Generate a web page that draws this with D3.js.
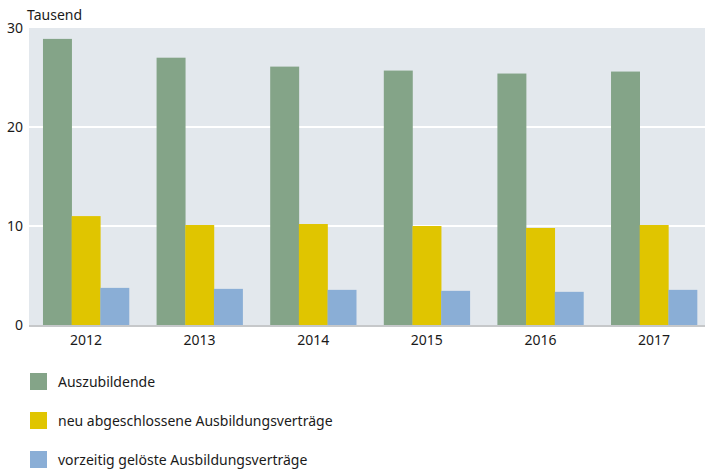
<!DOCTYPE html>
<html>
<head>
<meta charset="utf-8">
<script src="https://cdn.jsdelivr.net/npm/d3@7"></script>
<style>
  body { margin: 0; background: #fff; overflow: hidden; }
  svg text { font-family: "Noto Sans", sans-serif; fill: #1a1a1a; }
</style>
</head>
<body>
<script>
const years = ["2012", "2013", "2014", "2015", "2016", "2017"];
const seriesNames = [
    "Auszubildende",
    "neu abgeschlossene Ausbildungsverträge",
    "vorzeitig gelöste Ausbildungsverträge"
];
const auszubildende = [28.9, 27.0, 26.1, 25.7, 25.4, 25.6];
const neuVertraege = [11.0, 10.1, 10.2, 10.0, 9.8, 10.1];
const geloesteVertraege = [3.75, 3.65, 3.55, 3.45, 3.35, 3.55];
const yTicks = [0, 10, 20, 30];
const colors = ["#84a488", "#e0c500", "#8aaed6"];

const width = 705, height = 469;
// plot area runs a little past the right edge of the picture
const plot = { left: 29, right: 711, top: 28, bottom: 325 };

const svg = d3.select("body").append("svg")
    .attr("width", width)
    .attr("height", height);

const x = d3.scaleBand()
    .domain(years)
    .range([plot.left, plot.right])
    .paddingInner(0.243)
    .paddingOuter(0.123);
const xInner = d3.scaleBand()
    .domain(d3.range(3))
    .range([0, x.bandwidth()]);
const y = d3.scaleLinear()
    .domain([0, 30])
    .range([plot.bottom, plot.top]);

// plot background
svg.append("rect")
    .attr("x", plot.left)
    .attr("y", plot.top)
    .attr("width", plot.right - plot.left)
    .attr("height", plot.bottom - plot.top)
    .attr("fill", "#e3e8ed");

// grid lines
svg.append("g")
    .selectAll("line")
    .data(yTicks.filter(d => d > 0 && d < 30))
    .enter()
    .append("line")
        .attr("x1", plot.left)
        .attr("x2", plot.right)
        .attr("y1", d => y(d))
        .attr("y2", d => y(d))
        .attr("stroke", "#fff")
        .attr("stroke-width", 2);

// bars
const series = [auszubildende, neuVertraege, geloesteVertraege];
const groups = svg.append("g")
    .selectAll("g")
    .data(years)
    .enter()
    .append("g")
        .attr("transform", d => `translate(${x(d)}, 0)`);
groups.selectAll("rect")
    .data((d, i) => series.map((s, k) => ({ k: k, v: s[i] })))
    .enter()
    .append("rect")
        .attr("x", d => xInner(d.k))
        .attr("y", d => y(d.v))
        .attr("width", xInner.bandwidth() + 0.3)
        .attr("height", d => y(0) - y(d.v))
        .attr("fill", d => colors[d.k]);

// baseline
svg.append("rect")
    .attr("x", plot.left)
    .attr("y", plot.bottom)
    .attr("width", plot.right - plot.left)
    .attr("height", 2)
    .attr("fill", "#c6c8ca");

// y axis
const leftAxis = d3.axisLeft(y)
    .tickValues(yTicks)
    .tickSize(0)
    .tickPadding(6)
    .tickFormat(d3.format("d"));
const yAxis = svg.append("g")
    .attr("transform", `translate(${plot.left}, 0)`)
    .call(leftAxis);
yAxis.select(".domain").remove();
yAxis.selectAll("text")
    .style("font-size", "14px")
    .attr("dy", "0.32em");

svg.append("text")
    .attr("x", 27)
    .attr("y", 20)
    .style("font-size", "14px")
    .text("Tausend");

// x axis
const bottomAxis = d3.axisBottom(x).tickSize(0).tickPadding(8);
const xAxis = svg.append("g")
    .attr("transform", `translate(0, ${plot.bottom + 2})`)
    .call(bottomAxis);
xAxis.select(".domain").remove();
xAxis.selectAll("text").style("font-size", "14px");

// legend
const legend = svg.append("g")
    .selectAll("g")
    .data(seriesNames)
    .enter()
    .append("g")
        .attr("transform", (d, i) => `translate(30, ${373 + i * 39})`);
legend.append("rect")
    .attr("width", 17)
    .attr("height", 17)
    .attr("fill", (d, i) => colors[i]);
legend.append("text")
    .attr("x", 28)
    .attr("y", 13.5)
    .style("font-size", "14px")
    .text(d => d);
</script>
</body>
</html>
